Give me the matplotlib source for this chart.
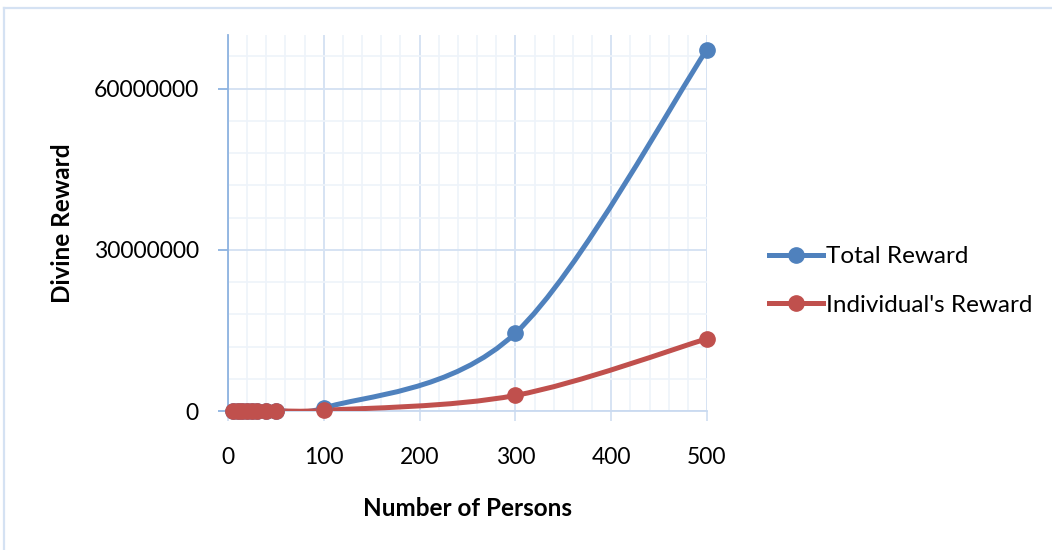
import numpy as np
import matplotlib
matplotlib.use("Agg")
import matplotlib.pyplot as plt
from matplotlib.path import Path
from matplotlib.patches import PathPatch
from matplotlib.lines import Line2D

plt.rcParams['font.family'] = ['Lato', 'DejaVu Sans']

# ---- data ----
persons = [5, 10, 15, 20, 25, 30, 40, 50, 100, 300, 500]
total_reward = [70, 540, 1800, 4300, 8400, 14600, 34600, 67500, 540000, 14500000, 67300000]
individual_reward = [14, 110, 370, 860, 1700, 2900, 6900, 13500, 108000, 2900000, 13450000]
series_names = ["Total Reward", "Individual's Reward"]
series_colors = ["#4F81BD", "#C0504D"]
x_ticks = [0, 100, 200, 300, 400, 500]
y_ticks = [0, 30000000, 60000000]

W, H = 1052, 550
fig = plt.figure(figsize=(W / 100, H / 100), dpi=100)

# chart-area border (only top and left visible)
fig.add_artist(Line2D([4 / W, 4 / W], [0, 1 - 8 / H], color="#D5E2F3", lw=1.6))
fig.add_artist(Line2D([4 / W, 1], [1 - 8 / H, 1 - 8 / H], color="#D5E2F3", lw=1.6))

ax = fig.add_axes([228 / W, 1 - 411 / H, (707 - 228) / W, (411 - 35) / H])
ax.set_xlim(0, 500)
ax.set_ylim(0, 70000000)

ax.set_xticks(x_ticks)
ax.set_xticks(np.arange(0, 501, 20), minor=True)
ax.set_yticks(y_ticks)
ax.set_yticks(np.arange(0, 70000000, 6000000), minor=True)
ax.set_yticklabels([str(v) for v in y_ticks])
ax.set_xticklabels([str(v) for v in x_ticks])

ax.grid(which="major", color="#D6E3F3", lw=1.4)
ax.grid(which="minor", color="#EEF3FA", lw=1.2)
ax.set_axisbelow(True)

for s in ["top", "right"]:
    ax.spines[s].set_visible(False)
ax.spines["left"].set_color("#8EB3E0")
ax.spines["left"].set_linewidth(1.3)
ax.spines["bottom"].set_color("#C9DAF0")
ax.spines["bottom"].set_linewidth(1.3)

ax.tick_params(axis="y", which="major", length=7, width=1.3, color="#8EB3E0",
               labelsize=16.5, pad=14)
ax.tick_params(axis="x", which="major", length=7, width=1.4, color="#D6E3F3",
               labelsize=16.5, pad=19)
ax.tick_params(which="minor", length=0)

ax.set_xlabel("Number of Persons", fontsize=17.5, fontweight="bold", labelpad=21)
ax.set_ylabel("Divine Reward", fontsize=17.5, fontweight="bold", labelpad=14)


def smooth_path(xs, ys):
    """Excel-like smoothed Bezier through the points, with clipped control arms."""
    sx = 479 / 500.0
    sy = 376 / 70000000.0
    P = np.column_stack([np.asarray(xs, float) * sx, np.asarray(ys, float) * sy])
    n = len(P)
    verts = [tuple(P[0])]
    codes = [Path.MOVETO]
    for i in range(n - 1):
        p0 = P[i - 1] if i > 0 else P[i]
        p1 = P[i]
        p2 = P[i + 1]
        p3 = P[i + 2] if i + 2 < n else P[i + 1]
        seg = np.linalg.norm(p2 - p1)
        a = (p2 - p0) / 6.0
        b = (p3 - p1) / 6.0
        la, lb = np.linalg.norm(a), np.linalg.norm(b)
        if la > 0.5 * seg:
            a *= 0.5 * seg / la
        if lb > 0.5 * seg:
            b *= 0.5 * seg / lb
        c1 = p1 + a
        c2 = p2 - b
        verts += [tuple(c1), tuple(c2), tuple(p2)]
        codes += [Path.CURVE4] * 3
    verts = np.array(verts)
    verts[:, 0] /= sx
    verts[:, 1] /= sy
    return Path(verts, codes)


handles = []
for ys, name, col in zip([total_reward, individual_reward], series_names, series_colors):
    patch = PathPatch(smooth_path(persons, ys), facecolor="none", edgecolor=col,
                      lw=3.6, capstyle="round", joinstyle="round", zorder=3)
    ax.add_patch(patch)
    ax.plot(persons, ys, linestyle="none", marker="o", markersize=11,
            color=col, markeredgecolor=col, zorder=4, clip_on=False)
    handles.append(Line2D([], [], color=col, lw=3.6, marker="o", markersize=11,
                          markeredgecolor=col))

fig.legend(handles, series_names, loc="center left",
           bbox_to_anchor=(757 / W, 1 - 281 / H), frameon=False, fontsize=17.5,
           handlelength=2.2, handletextpad=0.15, labelspacing=1.13, borderpad=0)

fig.savefig("out.png", dpi=100)
